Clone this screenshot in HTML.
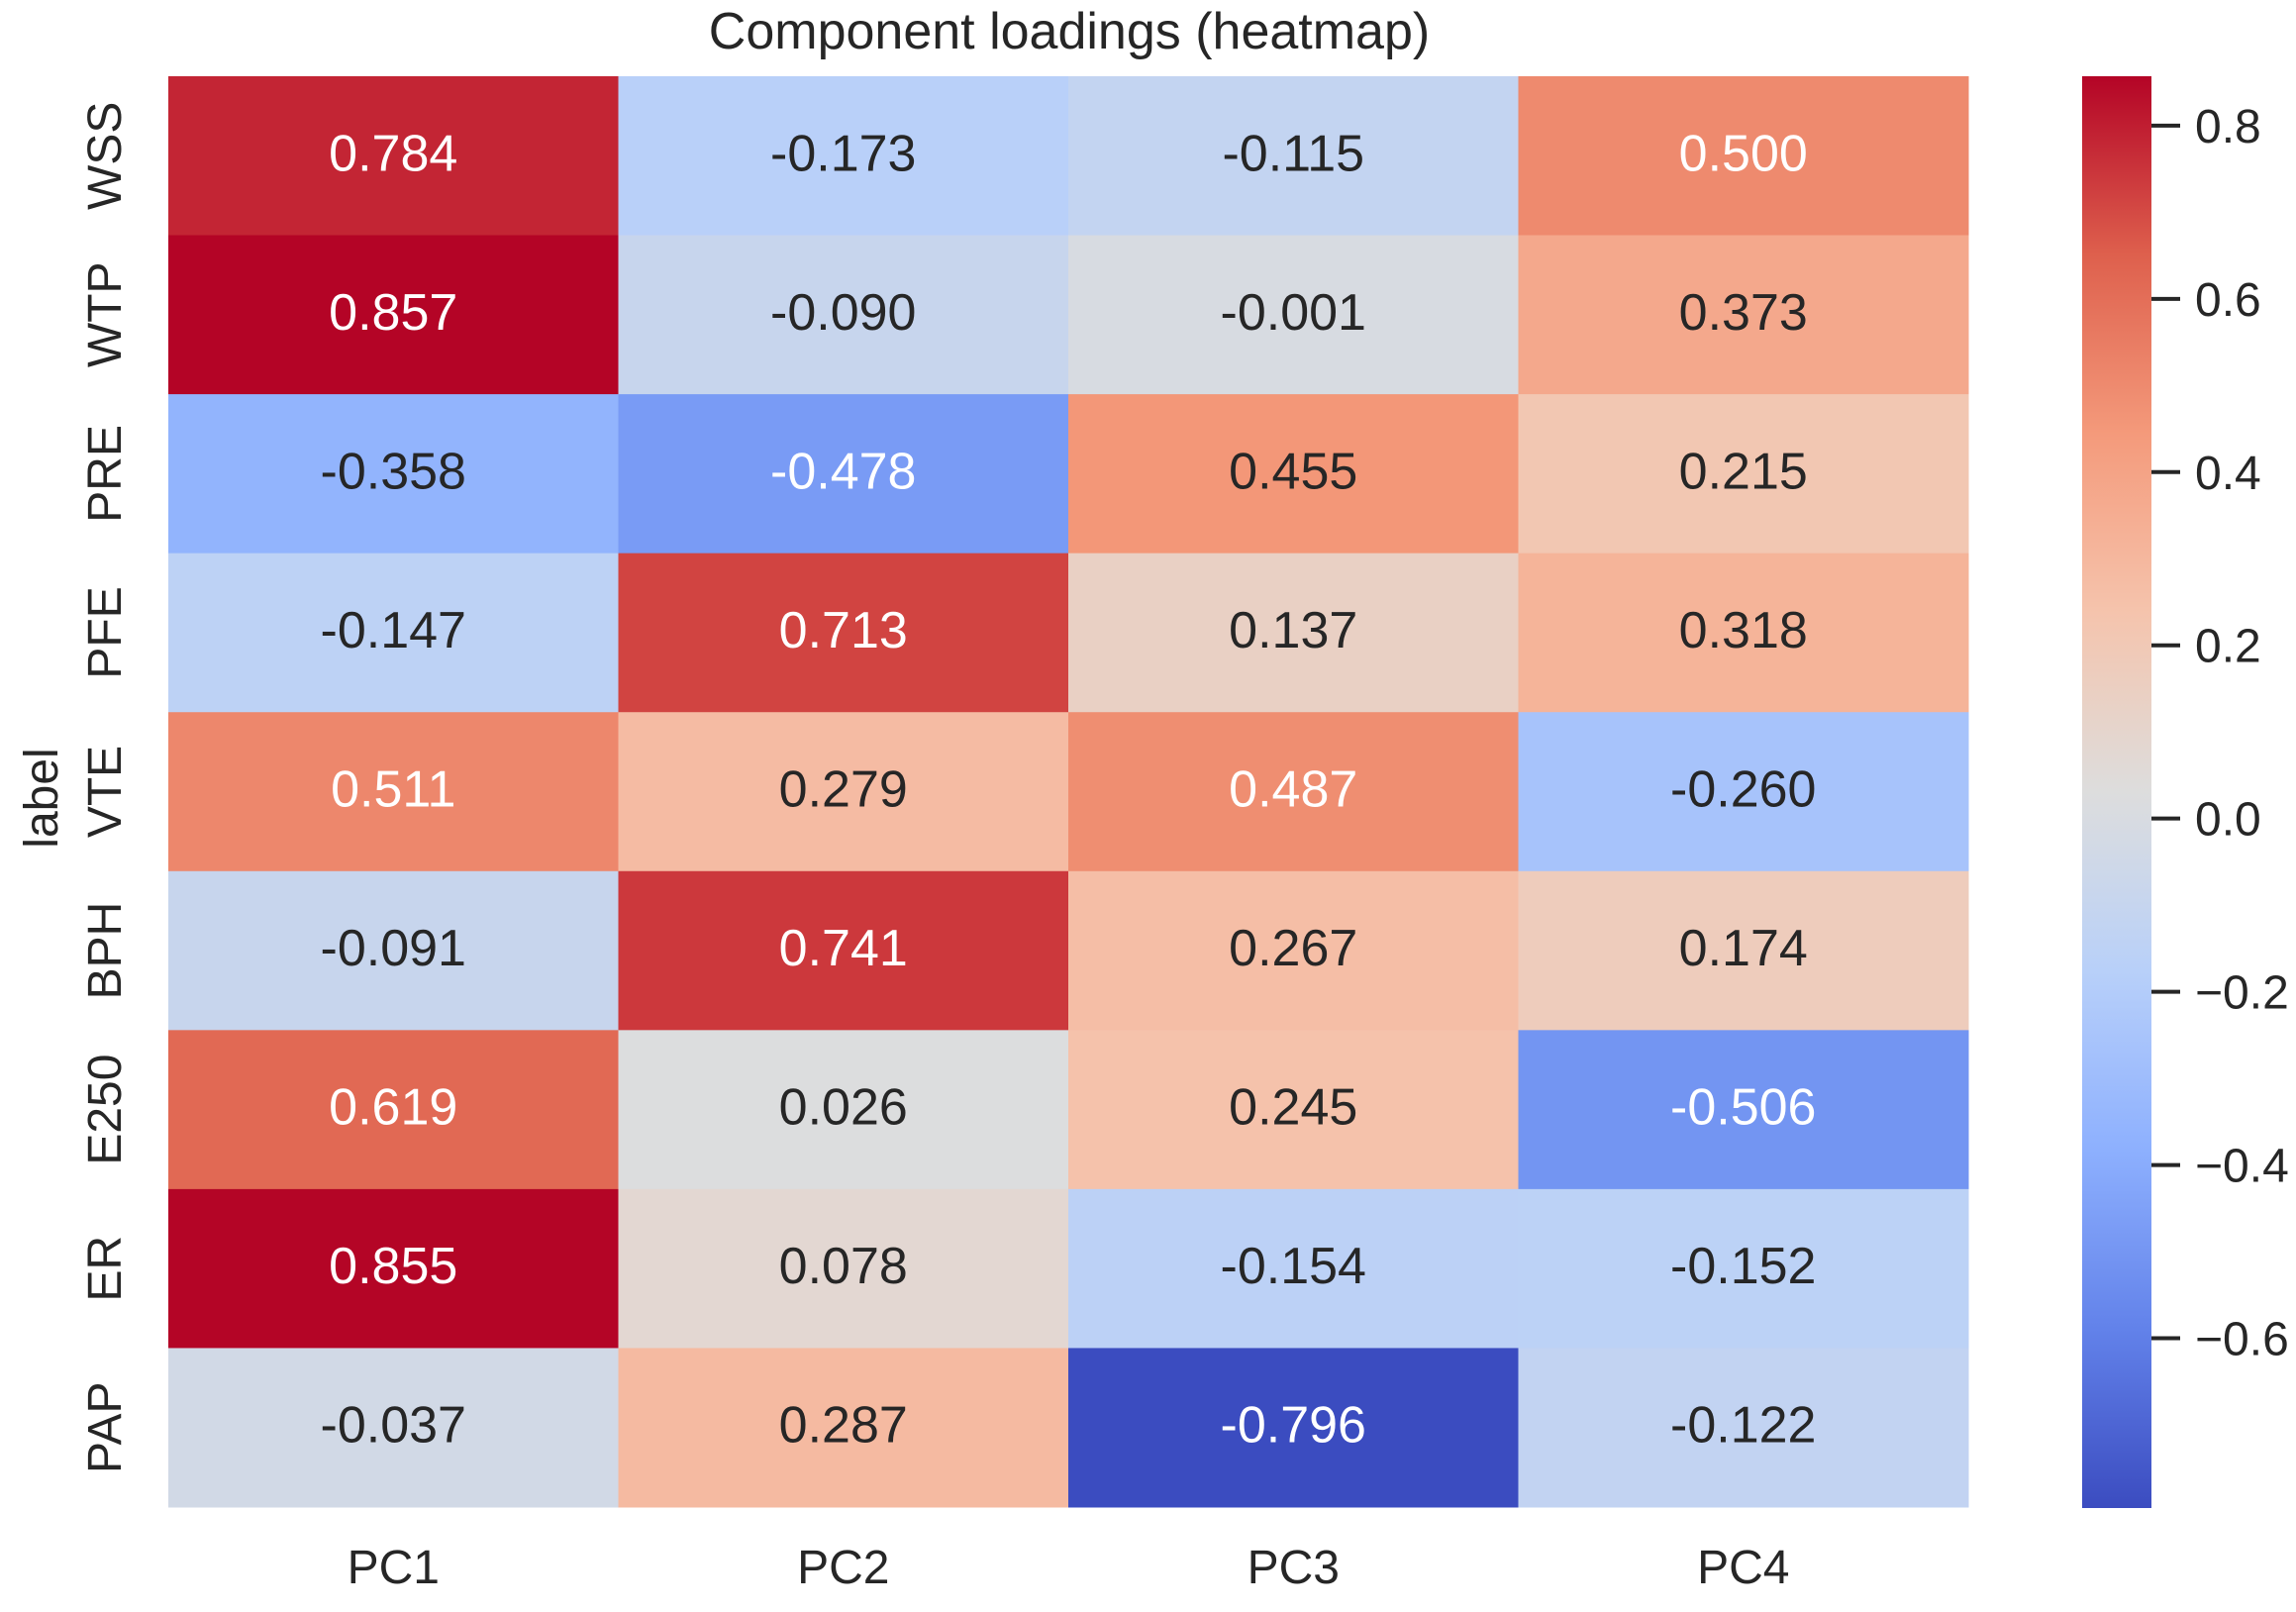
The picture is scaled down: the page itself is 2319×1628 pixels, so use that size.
<!DOCTYPE html>
<html><head><meta charset="utf-8"><style>
html,body{margin:0;padding:0;background:#fff;}
svg text{font-family:"Liberation Sans",Arial,sans-serif;}
</style></head><body>
<svg id="chart" width="2319" height="1623" viewBox="0 0 2319 1623" xmlns="http://www.w3.org/2000/svg">
<rect width="2319" height="1623" fill="#fff"/>
<defs><linearGradient id="cbgrad" x1="0" y1="1" x2="0" y2="0"></linearGradient></defs>
<text x="1080" y="49" font-size="52" text-anchor="middle" fill="#262626">Component loadings (heatmap)</text>
<text transform="translate(58,806) rotate(-90)" font-size="48" text-anchor="middle" fill="#262626">label</text>
<g id="cells"></g><g id="ylabels"></g><g id="xlabels"></g><g id="cbar"></g>
</svg>
<script>
const rowLabels = ["WSS","WTP","PRE","PFE","VTE","BPH","E250","ER","PAP"];
const colLabels = ["PC1","PC2","PC3","PC4"];
const pc1 = [0.784,0.857,-0.358,-0.147,0.511,-0.091,0.619,0.855,-0.037];
const pc2 = [-0.173,-0.090,-0.478,0.713,0.279,0.741,0.026,0.078,0.287];
const pc3 = [-0.115,-0.001,0.455,0.137,0.487,0.267,0.245,-0.154,-0.796];
const pc4 = [0.500,0.373,0.215,0.318,-0.260,0.174,-0.506,-0.152,-0.122];
const cbTicks = [0.8,0.6,0.4,0.2,0.0,-0.2,-0.4,-0.6];
const vmin = -0.796, vmax = 0.857;

const NS="http://www.w3.org/2000/svg";
const L=170,R=1988,T=77,B=1522;
const cw=(R-L)/colLabels.length, rh=(B-T)/rowLabels.length;
const xPos=i=>L+i*cw, yPos=j=>T+j*rh;
const cbX=2103,cbW=70,cbT=77,cbB=1523;
const cbY=v=>cbB-(v-vmin)/(vmax-vmin)*(cbB-cbT);
const stops=[[59,76,192],[98,130,234],[141,176,254],[184,208,249],[221,221,221],[245,196,173],[244,154,123],[222,96,77],[180,4,38]];
function cmap(t){t=Math.max(0,Math.min(1,t));const p=t*8,i=Math.min(7,Math.floor(p)),f=p-i;
 return stops[i].map((c,k)=>Math.round(c+(stops[i+1][k]-c)*f));}
function lum(c){const l=c.map(x=>{x/=255;return x<=0.03928?x/12.92:Math.pow((x+0.055)/1.055,2.4);});return 0.2126*l[0]+0.7152*l[1]+0.0722*l[2];}
function mk(tag,attrs,parent){const e=document.createElementNS(NS,tag);for(const k in attrs)e.setAttribute(k,attrs[k]);parent.appendChild(e);return e;}
const series=[pc1,pc2,pc3,pc4];
const cells=document.getElementById('cells');
series.forEach((s,i)=>{s.forEach((v,j)=>{
 const c=cmap((v-vmin)/(vmax-vmin));
 const r=mk('rect',{x:xPos(i),y:yPos(j),width:cw+0.5,height:rh+0.5,fill:`rgb(${c})`},cells);
 
 
 const t=mk('text',{x:xPos(i)+cw/2,y:yPos(j)+rh/2+15,'font-size':52,'text-anchor':'middle',fill:lum(c)>0.408?'#262626':'#ffffff'},cells);
 t.textContent=v.toFixed(3);
 
 
});});
const yl=document.getElementById('ylabels');
rowLabels.forEach((l,j)=>{const cy=yPos(j)+rh/2;
 const t=mk('text',{transform:`translate(122,${cy}) rotate(-90)`,'font-size':48,'text-anchor':'middle',fill:'#262626'},yl);
 t.textContent=l;
 
 });
const xl=document.getElementById('xlabels');
colLabels.forEach((l,i)=>{const t=mk('text',{x:xPos(i)+cw/2,y:1599,'font-size':48,'text-anchor':'middle',fill:'#262626'},xl);
 t.textContent=l;
 
 });
const g=document.getElementById('cbgrad');
for(let k=0;k<=16;k++){const c=cmap(k/16);mk('stop',{offset:k/16,'stop-color':`rgb(${c})`},g);}
const cb=document.getElementById('cbar');
const cr=mk('rect',{x:cbX,y:cbT,width:cbW,height:cbB-cbT,fill:'url(#cbgrad)'},cb);


cbTicks.forEach(v=>{const y=cbY(v);
 const tk=mk('line',{x1:cbX+cbW,x2:cbX+cbW+29,y1:y,y2:y,stroke:'#262626','stroke-width':4},cb);
 
 
 const t=mk('text',{x:cbX+cbW+44,y:y+17,'font-size':48,fill:'#262626'},cb);
 t.textContent=(v<0?'\u2212':'')+Math.abs(v).toFixed(1);
 
 });
</script>
</body></html>
